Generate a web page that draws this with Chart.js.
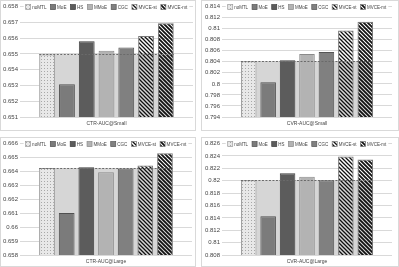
<!DOCTYPE html>
<html>
<head>
<meta charset="utf-8">
<script src="https://cdn.jsdelivr.net/npm/chart.js@4.4.1/dist/chart.umd.min.js"></script>
<style>
  html,body{margin:0;padding:0;background:#fff;}
  .p{position:absolute;border:1px solid #d9d9d9;box-sizing:border-box;background:#fff;}
  canvas{display:block;}
</style>
</head>
<body>
<div class="p" style="left:0;top:0;width:196px;height:131px"><canvas id="c1" width="194" height="129"></canvas></div>
<div class="p" style="left:201px;top:0;width:198px;height:131px"><canvas id="c2" width="196" height="129"></canvas></div>
<div class="p" style="left:0;top:137px;width:196px;height:130px"><canvas id="c3" width="194" height="128"></canvas></div>
<div class="p" style="left:201px;top:137px;width:198px;height:130px"><canvas id="c4" width="196" height="128"></canvas></div>
<script>
// ---- data ----
const series = ['noMTL', 'MoE', 'HS', 'MMoE', 'CGC', 'MVCE-st', 'MVCE-mt'];
const ctrSmall = [0.65497, 0.65307, 0.65580, 0.65520, 0.65540, 0.65613, 0.65695];
const cvrSmall = [0.80410, 0.80030, 0.80430, 0.80540, 0.80578, 0.80966, 0.81127];
const ctrLarge = [0.66425, 0.66102, 0.66430, 0.66395, 0.66422, 0.66443, 0.66530];
const cvrLarge = [0.82007, 0.81425, 0.82119, 0.82066, 0.82007, 0.82390, 0.82344];
const panelLabels = ['CTR-AUC@Small', 'CVR-AUC@Small', 'CTR-AUC@Large', 'CVR-AUC@Large'];
const axisMin = [0.651, 0.794, 0.658, 0.808];
const axisMax = [0.658, 0.814, 0.666, 0.826];
const axisStep = [0.001, 0.002, 0.001, 0.002];

const FONT = '"Liberation Sans", Arial, sans-serif';
const TXT = '#454545';

// ---- patterns ----
function dots(){
  const c=document.createElement('canvas'); c.width=3; c.height=3;
  const g=c.getContext('2d');
  g.fillStyle='#e8e8e8'; g.fillRect(0,0,3,3);
  g.fillStyle='#a8a8a8'; g.fillRect(1,1,1,1);
  return g.createPattern(c,'repeat');
}
function hatch(lw){
  const c=document.createElement('canvas'); c.width=4; c.height=4;
  const g=c.getContext('2d');
  g.strokeStyle='#111'; g.lineWidth=lw;
  g.beginPath();
  g.moveTo(-1,-1); g.lineTo(5,5);
  g.moveTo(-1,3); g.lineTo(1,5);
  g.moveTo(3,-1); g.lineTo(5,1);
  g.stroke();
  return g.createPattern(c,'repeat');
}
const fills = [dots(), '#7b7b7b', '#5c5c5c', '#b3b3b3', '#808080', hatch(1.3), hatch(1.8)];
const borders = ['#9a9a9a', '#505050', '#3f3f3f', '#8a8a8a', '#555555', '#777777', '#777777'];

// ---- plugins ----
const baselinePlugin = {
  id:'baseline',
  _geom(chart){
    const n=chart.data.datasets.length;
    const a=chart.getDatasetMeta(0).data[0], b=chart.getDatasetMeta(n-1).data[0];
    return {left:a.x-a.width/2, right:b.x+b.width/2,
            y:chart.scales.y.getPixelForValue(chart.data.datasets[0].data[0])};
  },
  beforeDatasetsDraw(chart){
    const g=this._geom(chart), ctx=chart.ctx;
    ctx.save(); ctx.fillStyle='#d6d6d6';
    ctx.fillRect(g.left, g.y, g.right-g.left, chart.chartArea.bottom-g.y);
    ctx.restore();
  },
  afterDatasetsDraw(chart){
    const g=this._geom(chart), ctx=chart.ctx;
    ctx.save(); ctx.strokeStyle='#6a6a6a'; ctx.lineWidth=1; ctx.setLineDash([2,1.5]);
    ctx.beginPath(); ctx.moveTo(g.left, Math.round(g.y)+0.5); ctx.lineTo(g.right, Math.round(g.y)+0.5); ctx.stroke();
    ctx.restore();
  }
};
const legendPlugin = {
  id:'lg',
  afterDraw(chart){
    const ctx=chart.ctx, ca=chart.chartArea;
    ctx.save();
    const box=5, gapT=1.5, gapI=4;
    const n=chart.data.datasets.length;
    const target=(ca.right-ca.left)*0.935 - n*(box+gapT) - gapI*(n-1);
    ctx.font='5.5px '+FONT;
    const raw=chart.data.datasets.reduce((s,d)=>s+ctx.measureText(d.label).width,0);
    const fs=5.5*Math.min(1,target/raw);
    ctx.font=fs.toFixed(2)+'px '+FONT;
    const items=chart.data.datasets.map(d=>({t:d.label,w:ctx.measureText(d.label).width,bg:d.backgroundColor,bc:d.borderColor}));
    const total=items.reduce((s,i)=>s+box+gapT+i.w,0)+gapI*(n-1);
    let x=(ca.left+ca.right)/2-total/2;
    const y=ca.top+0.5;
    ctx.fillStyle='#fff'; ctx.fillRect(x-2,y-3.5,total+4,7);
    items.forEach(it=>{
      ctx.fillStyle=it.bg; ctx.fillRect(x,y-2.5,box,box);
      ctx.strokeStyle=it.bc; ctx.lineWidth=0.7; ctx.strokeRect(x,y-2.5,box,box);
      ctx.fillStyle=TXT; ctx.textBaseline='middle'; ctx.textAlign='left';
      ctx.fillText(it.t,x+box+gapT,y+0.3);
      x+=box+gapT+it.w+gapI;
    });
    ctx.restore();
  }
};

// ---- layout per panel ----
const lay = [
  {top:5, right:2, yW:19, xH:13},
  {top:5, right:6, yW:20, xH:13},
  {top:5, right:3, yW:19, xH:11},
  {top:5, right:6, yW:20, xH:11}
];
const datasets = [ctrSmall, cvrSmall, ctrLarge, cvrLarge];

datasets.forEach((vals, p)=>{
  const L = lay[p];
  new Chart(document.getElementById('c'+(p+1)), {
    type:'bar',
    data:{
      labels:[panelLabels[p]],
      datasets: series.map((s,i)=>({
        label:s, data:[vals[i]],
        backgroundColor:fills[i], borderColor:borders[i], borderWidth:1,
        categoryPercentage:0.8, barPercentage:0.8
      }))
    },
    options:{
      responsive:false, animation:false, devicePixelRatio:1,
      layout:{padding:{top:L.top, right:L.right, left:0, bottom:0}},
      plugins:{legend:{display:false}, tooltip:{enabled:false}},
      scales:{
        x:{
          grid:{display:false, drawTicks:false}, border:{display:false},
          ticks:{padding:4, color:TXT, font:{size:5, family:FONT}},
          afterFit(s){ s.height=L.xH; }
        },
        y:{
          min:axisMin[p], max:axisMax[p],
          grid:{color:'#d9d9d9', drawTicks:false, lineWidth:1}, border:{display:false},
          ticks:{stepSize:axisStep[p], padding:2, color:TXT,
                 font:{size:6, family:FONT},
                 callback:v=>String(+(+v).toFixed(3))},
          afterFit(s){ s.width=L.yW; }
        }
      }
    },
    plugins:[baselinePlugin, legendPlugin]
  });
});
</script>
</body>
</html>
